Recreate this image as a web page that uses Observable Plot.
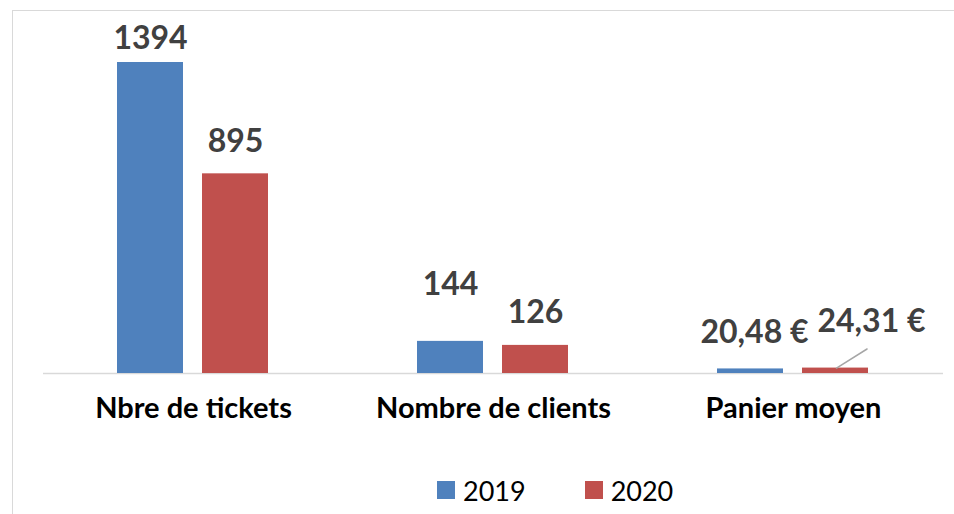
<!DOCTYPE html>
<html>
<head>
<meta charset="utf-8">
<script src="https://cdn.jsdelivr.net/npm/d3@7"></script>
<script src="https://cdn.jsdelivr.net/npm/@observablehq/plot@0.6"></script>
<style>
  html, body { margin: 0; padding: 0; background: #fff; overflow: hidden; }
  #wrap { position: relative; width: 954px; height: 514px; }
  #border { position: absolute; left: 12px; top: 10px; width: 1000px; height: 600px;
            border: 1.5px solid #d9d9d9; pointer-events: none; }
  #chart svg { display: block; overflow: visible; }
  #legend { display: flex; align-items: center; height: 36px; margin-left: 437px;
            font-family: Lato, sans-serif; font-size: 27px; color: #000; }
  .sw { width: 18px; height: 18px; display: inline-block; }
</style>
</head>
<body>
<div id="wrap">
  <div id="chart"></div>
  <div id="legend"></div>
  <div id="border"></div>
</div>
<script>
// ---- data ----
const categories = ["Nbre de tickets", "Nombre de clients", "Panier moyen"];
const years = ["2019", "2020"];
const values2019 = [1394, 144, 20.48];
const values2020 = [895, 126, 24.31];
const labels2019 = ["1394", "144", "20,48 €"];
const labels2020 = ["895", "126", "24,31 €"];
const colors = ["#4f81bd", "#c0504d"];

// label nudges (dx, dy in px) as placed in the original chart, order: row order below
const labelNudges = [[0, -24], [0, -32], [0, -57], [0, -32.5], [4, -36], [36, -46]];

const rows = categories.flatMap((c, i) => [
  {category: c, year: years[0], value: values2019[i], label: labels2019[i]},
  {category: c, year: years[1], value: values2020[i], label: labels2020[i]}
]);

const plot = Plot.plot({
  width: 954,
  height: 472,
  marginLeft: 42,
  marginRight: 11,
  marginTop: 62,
  marginBottom: 99,
  style: {fontFamily: "Lato, sans-serif", background: "transparent"},
  fx: {domain: categories, padding: 0, axis: null},
  x: {domain: years, paddingInner: 0.22, paddingOuter: 0.855, axis: null},
  y: {domain: [0, d3.max(values2019.concat(values2020))], axis: null},
  color: {domain: years, range: colors},
  marks: [
    Plot.ruleY([0], {stroke: "#d9d9d9", strokeWidth: 1.5}),
    Plot.barY(rows, {fx: "category", x: "year", y: "value", fill: "year"}),
    ...rows.map((r, i) => Plot.text([r], {
      fx: "category", x: "year", y: "value", text: "label",
      dx: labelNudges[i][0], dy: labelNudges[i][1],
      fontSize: 32, fontWeight: "bold", fill: "#404040"
    })),
    Plot.text(categories, {
      fx: d => d, text: d => d, frameAnchor: "bottom", dy: 44,
      fontSize: 29, fontWeight: "bold", fill: "#000"
    }),
    // leader line for the moved "24,31 €" label
    Plot.vector(rows.filter(r => r.label === labels2020[2]), {
      fx: "category", x: "year", y: "value", anchor: "start",
      length: 36, rotate: 58, dx: 1,
      stroke: "#a6a6a6", strokeWidth: 1.5,
      shape: {draw(context, l) { context.moveTo(0, 0); context.lineTo(0, -l); }}
    })
  ]
});
document.getElementById("chart").appendChild(plot);

// legend
const legend = document.getElementById("legend");
years.forEach((y, i) => {
  const sw = document.createElement("span");
  sw.className = "sw";
  sw.style.background = colors[i];
  sw.style.marginLeft = i === 0 ? "0px" : "59px";
  const t = document.createElement("span");
  t.textContent = y;
  t.style.marginLeft = "8px";
  legend.appendChild(sw);
  legend.appendChild(t);
});
</script>
</body>
</html>
